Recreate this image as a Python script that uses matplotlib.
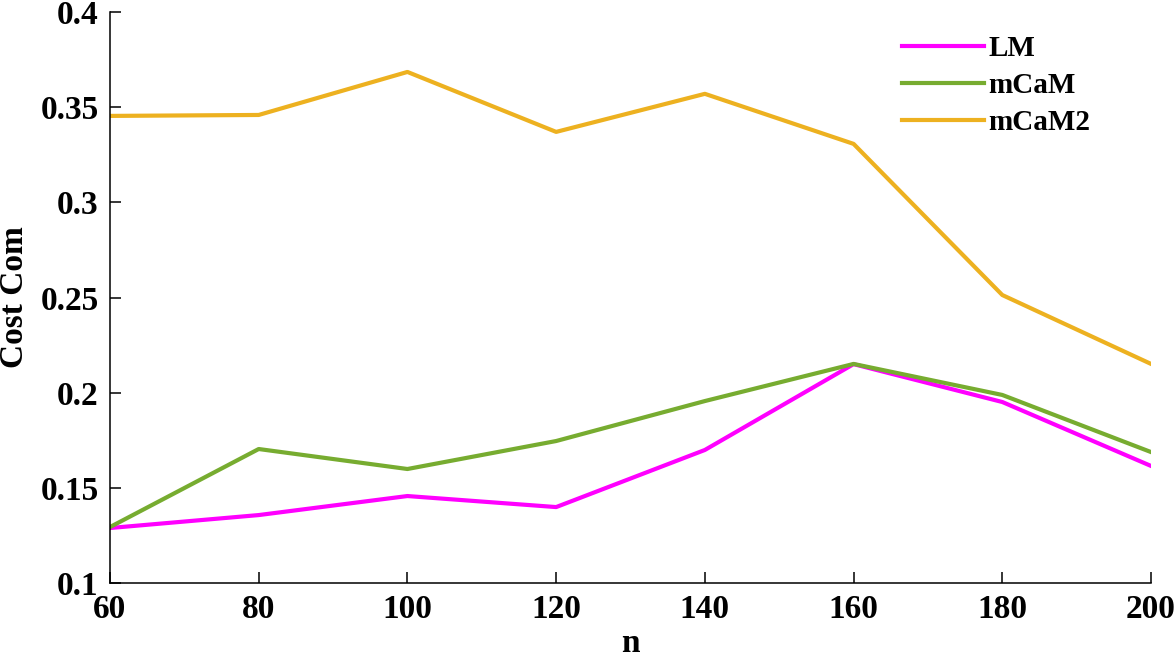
import matplotlib
matplotlib.use("Agg")
import matplotlib.pyplot as plt

plt.rcParams['font.family'] = ['Liberation Serif', 'DejaVu Serif']
plt.rcParams['font.weight'] = 'bold'

n = [60, 80, 100, 120, 140, 160, 180, 200]
lm = [0.1289, 0.1357, 0.1457, 0.1399, 0.1699, 0.2150, 0.1951, 0.1615]
mcam = [0.1294, 0.1704, 0.1599, 0.1746, 0.1956, 0.2151, 0.1988, 0.1688]
mcam2 = [0.3454, 0.3459, 0.3685, 0.3370, 0.3570, 0.3307, 0.2513, 0.2151]

fig = plt.figure(figsize=(11.75, 6.62), dpi=100)
ax = fig.add_axes([0.0936, 0.1193, 0.886, 0.8626])

ax.plot(n, lm, color='#FF00FF', lw=3.0, label='LM')
ax.plot(n, mcam, color='#77AC30', lw=3.0, label='mCaM')
ax.plot(n, mcam2, color='#EDB120', lw=3.0, label='mCaM2')

ax.set_xlim(60, 200)
ax.set_ylim(0.1, 0.4)
ax.set_xticks(n)
ax.set_yticks([0.1, 0.15, 0.2, 0.25, 0.3, 0.35, 0.4])
ax.set_yticklabels(['0.1', '0.15', '0.2', '0.25', '0.3', '0.35', '0.4'])
ax.spines['top'].set_visible(False)
ax.spines['right'].set_visible(False)
for s in ['left', 'bottom']:
    ax.spines[s].set_linewidth(1.1)
ax.tick_params(direction='in', length=8, width=1.1, labelsize=24, pad=8)

ax.set_xlabel('n', fontsize=24, fontweight='bold', labelpad=2)
ax.set_ylabel('Cost Com', fontsize=24, fontweight='bold', labelpad=8)

ax.legend(loc='upper right', bbox_to_anchor=(0.953, 0.98), frameon=False, fontsize=21,
          handlelength=2.8, labelspacing=0.35, handletextpad=0.15, borderaxespad=0)

fig.savefig('out.png', dpi=100)
